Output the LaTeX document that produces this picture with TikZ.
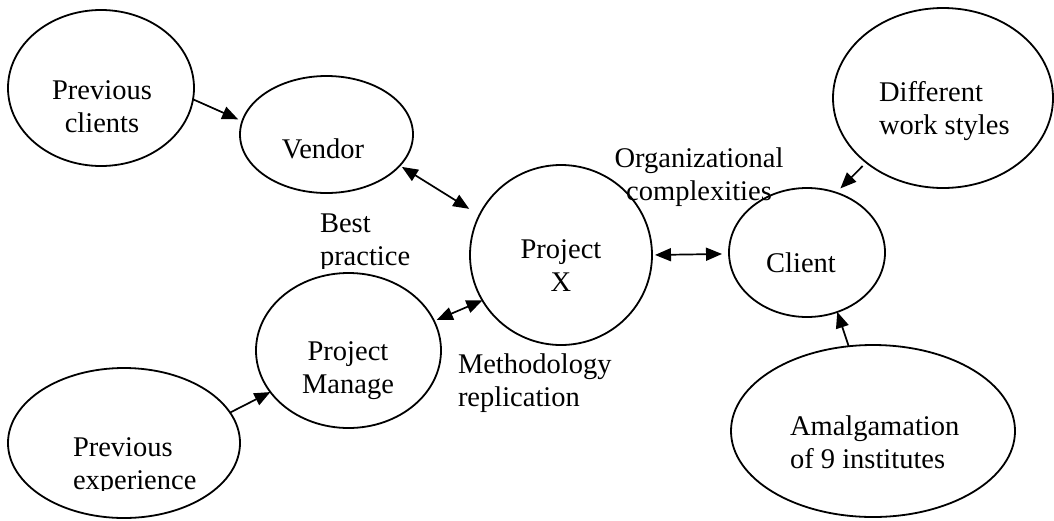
\documentclass[tikz,border=0pt]{standalone}
\usepackage{fontspec}
\setmainfont{Liberation Serif}
\usetikzlibrary{shapes.geometric,arrows.meta}
\tikzset{
  ell/.style={draw, ellipse, line width=1.8pt, inner sep=0pt, outer sep=0pt},
  lbl/.style={inner sep=0pt, outer sep=0pt, font=\fontsize{28.5pt}{33pt}\selectfont},
  arr/.style={line width=1.7pt, -{Triangle[length=16pt,width=13pt]}},
  darr/.style={line width=1.7pt, {Triangle[length=16pt,width=13pt]}-{Triangle[length=16pt,width=13pt]}}
}
\begin{document}
\begin{tikzpicture}[x=1pt,y=-1pt]
\useasboundingbox (0,0) rectangle (1054,520);
% ellipses
\node[ell, minimum width=186pt, minimum height=156pt] (pc) at (101,88) {};
\node[ell, minimum width=173pt, minimum height=117pt] (vendor) at (326.5,134.5) {};
\node[ell, minimum width=182pt, minimum height=180pt] (px) at (561,255) {};
\node[ell, minimum width=156pt, minimum height=129pt] (client) at (807,252.5) {};
\node[ell, minimum width=220pt, minimum height=180pt] (dws) at (943,98) {};
\node[ell, minimum width=185pt, minimum height=155pt] (pm) at (348.5,350.5) {};
\node[ell, minimum width=232pt, minimum height=150pt] (pe) at (124,443) {};
\node[ell, minimum width=284pt, minimum height=172pt] (am) at (873,431) {};
% texts (base anchor = baseline of the last line)
\node[lbl, align=center, anchor=base] (pct) at (102,132) {Previous\\clients};
\node[lbl, anchor=base] (vt) at (323,158) {Vendor};
\node[lbl, align=center, anchor=base] (pxt) at (561,291) {Project\\X};
\node[lbl, anchor=base] (ct) at (801,272) {Client};
\node[lbl, align=left, anchor=base west] (dwst) at (879,134) {Different\\work styles};
\node[lbl, align=center, anchor=base] (pmt) at (348,393) {Project\\Manage};
\begin{scope}
\clip (0,0) rectangle (1054,490);
\node[lbl, align=left, anchor=base west] (pet) at (73,489) {Previous\\experience};
\end{scope}
\node[lbl, align=left, anchor=base west] (amt) at (790,468) {Amalgamation\\of 9 institutes};
\node[lbl, align=center, anchor=base] (org) at (699,200) {Organizational\\complexities};
\begin{scope}
\clip (0,0) rectangle (1054,268);
\node[lbl, align=left, anchor=base west] (best) at (320,265) {Best\\practice};
\end{scope}
\node[lbl, align=left, anchor=base west] (meth) at (458,406) {Methodology\\replication};
% connectors
\draw[arr, shorten >=4.5pt] (pc.-7) -- (vendor.171);
\draw[darr, shorten <=2.5pt, shorten >=12pt] (vendor.-23) -- (px.154.4);
\draw[darr, shorten <=3pt, shorten >=7pt] (px.0.5) -- (client.181);
\draw[darr, shorten >=3pt] (px.210.5) -- (pm.19);
\draw[arr, shorten <=5pt, shorten >=6pt] (dws.220) -- (client.64.7);
\draw[arr] (am.106) -- (client.-63);
\draw[arr] (pe.16) -- (pm.208);
\end{tikzpicture}
\end{document}
